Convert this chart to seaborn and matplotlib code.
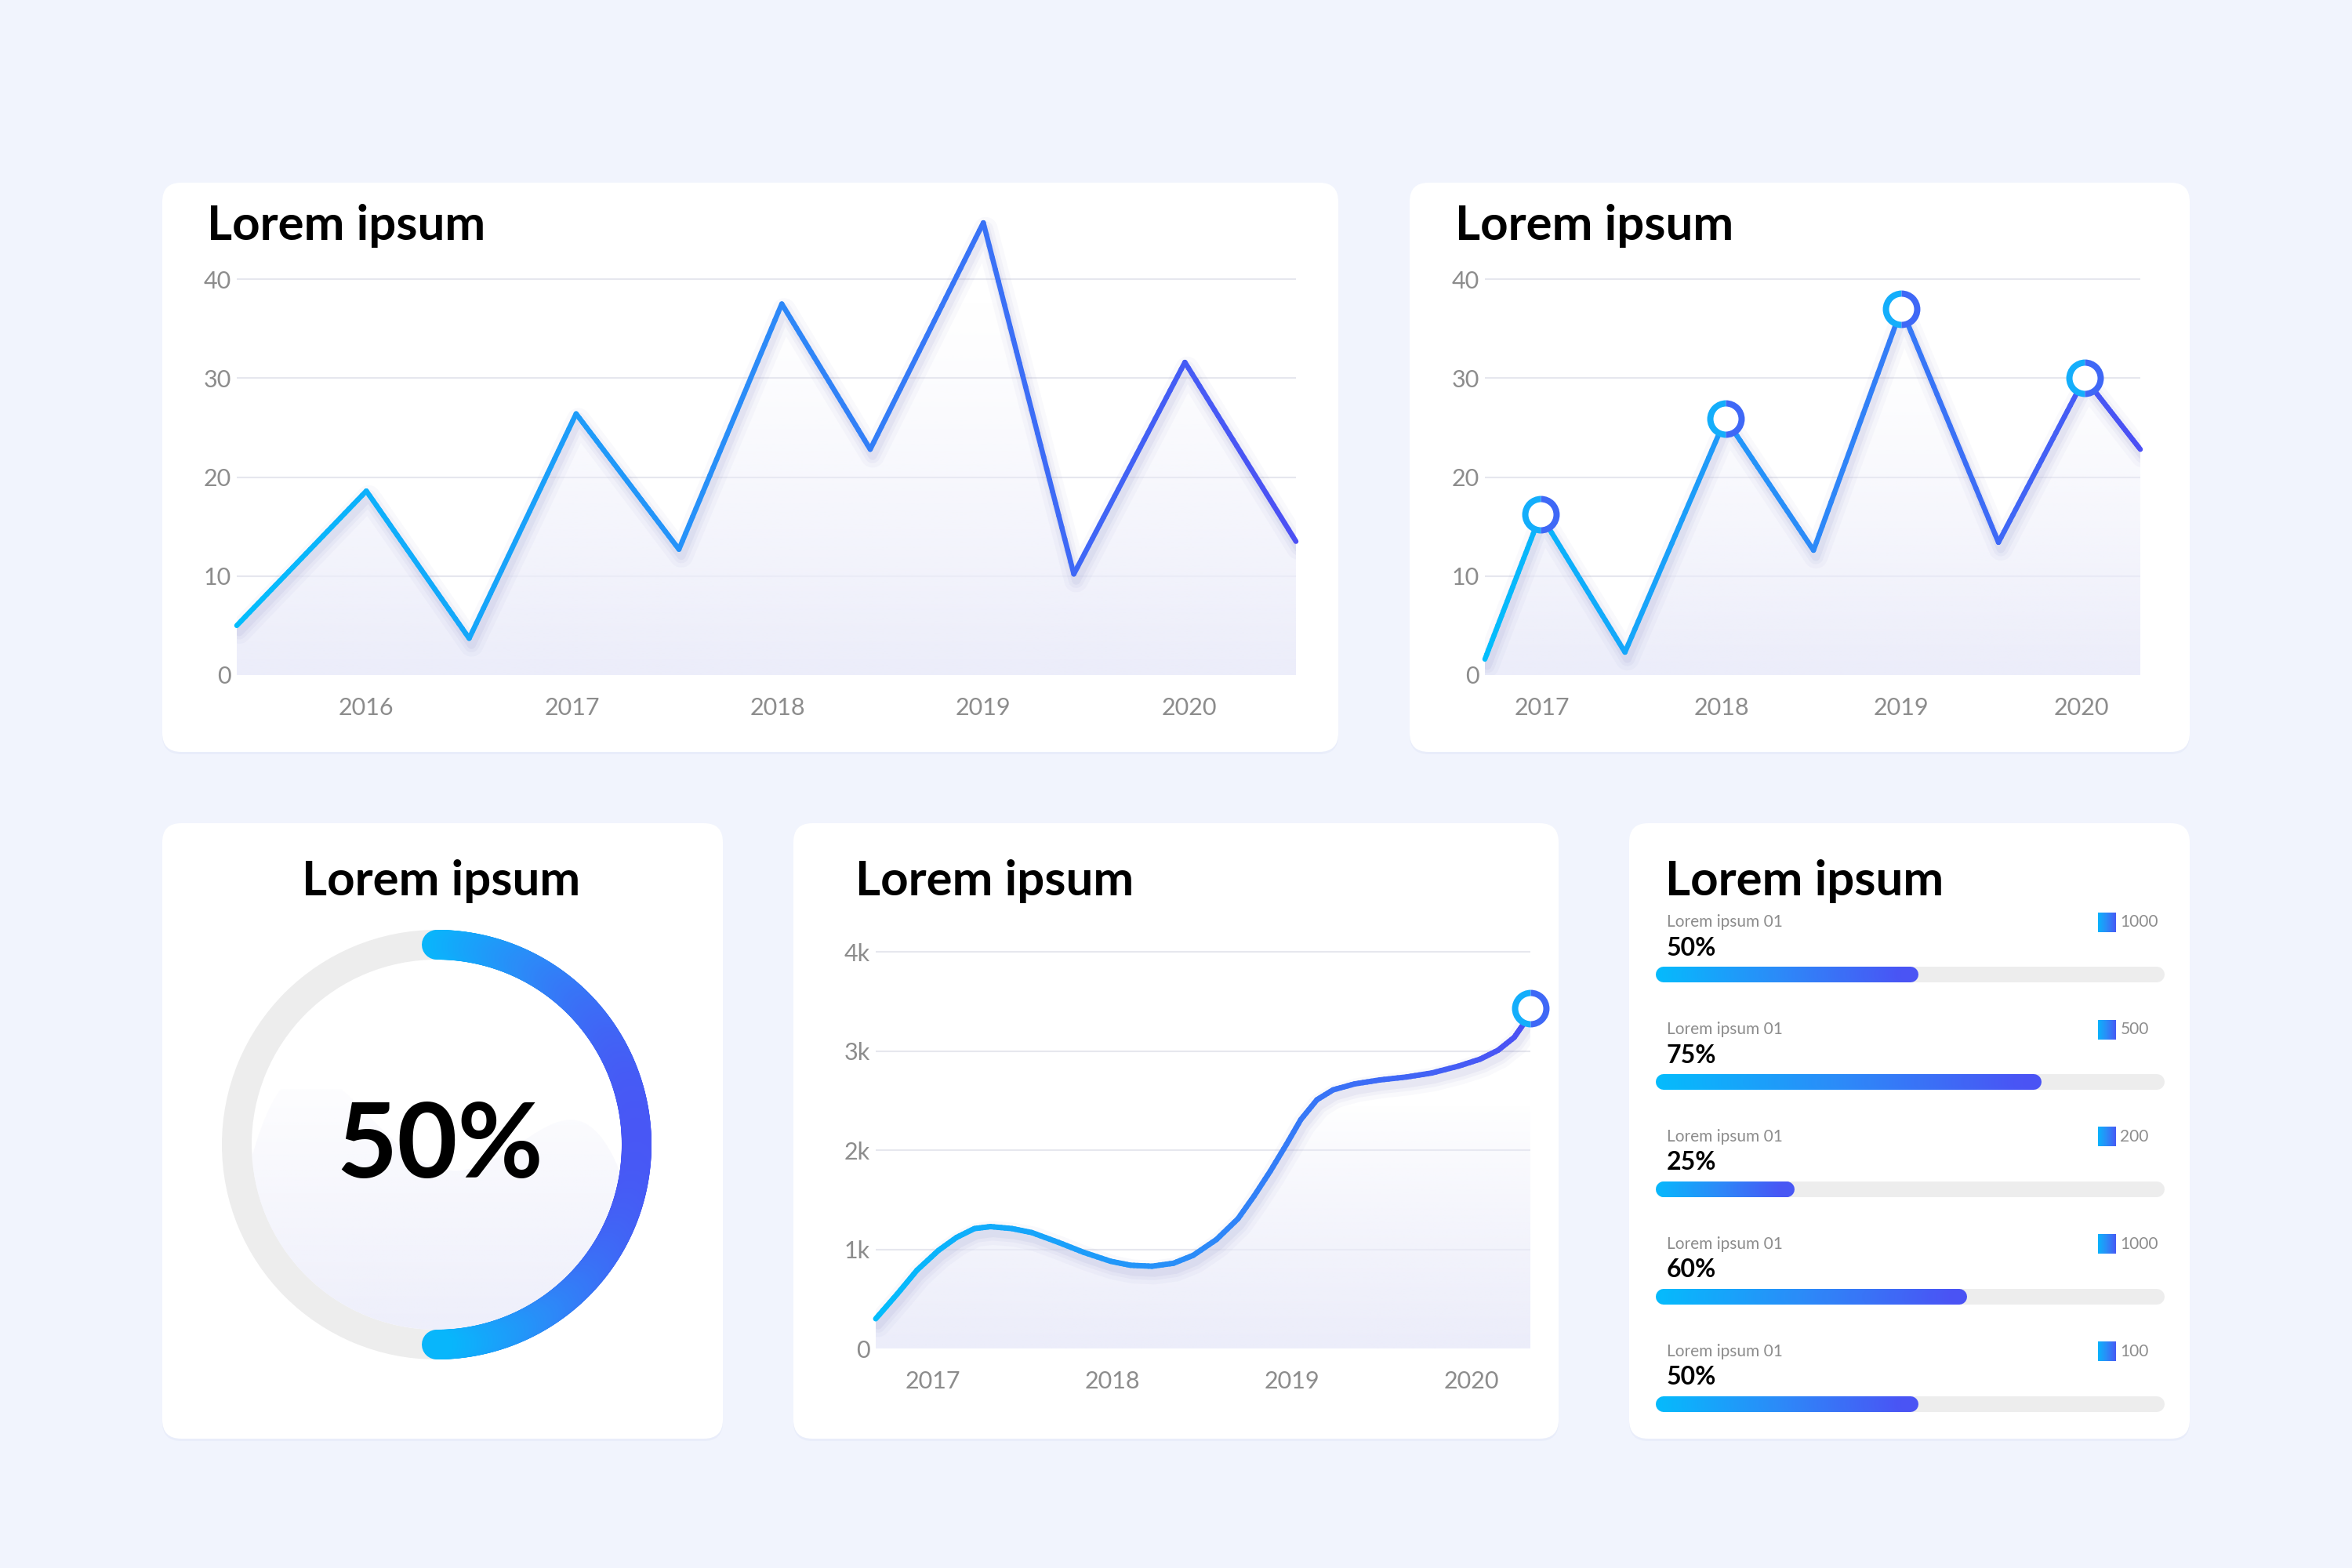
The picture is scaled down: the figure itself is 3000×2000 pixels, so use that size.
import numpy as np
import pandas as pd
import matplotlib
matplotlib.use("Agg")
import matplotlib.pyplot as plt
import seaborn as sns
from matplotlib.patches import FancyBboxPatch, Wedge, Polygon
from matplotlib.collections import LineCollection
from matplotlib.colors import LinearSegmentedColormap, to_rgb
from matplotlib.transforms import offset_copy

sns.set_theme(style="white")
plt.rcParams["font.family"] = ["Lato", "DejaVu Sans"]

# ---- data ----
title = "Lorem ipsum"

years_main = [2015.37, 2016.0, 2016.5, 2017.02, 2017.52, 2018.02, 2018.45, 2019.0, 2019.44, 2019.98, 2020.52]
values_main = [5.0, 18.6, 3.7, 26.4, 12.7, 37.5, 22.8, 45.7, 10.2, 31.6, 13.5]
ticks_main = [2016, 2017, 2018, 2019, 2020]

years_peaks = [2016.68, 2016.99, 2017.46, 2018.02, 2018.51, 2019.0, 2019.54, 2020.02, 2020.33]
values_peaks = [1.6, 16.2, 2.3, 25.9, 12.6, 37.0, 13.4, 30.0, 22.8]
marked_peaks = [1, 3, 5, 7]
ticks_small = [2017, 2018, 2019, 2020]
yticks_ten = [0, 10, 20, 30, 40]

years_curve = [2016.68, 2016.80, 2016.91, 2017.03, 2017.13, 2017.23, 2017.32, 2017.44, 2017.55,
               2017.70, 2017.84, 2017.99, 2018.10, 2018.22, 2018.34, 2018.45, 2018.58, 2018.70,
               2018.79, 2018.88, 2018.97, 2019.05, 2019.14, 2019.23, 2019.35, 2019.49, 2019.64,
               2019.78, 2019.93, 2020.05, 2020.15, 2020.24, 2020.29, 2020.33]
values_curve = [0.30, 0.55, 0.79, 0.99, 1.12, 1.21, 1.23, 1.21, 1.17,
                1.07, 0.97, 0.88, 0.84, 0.83, 0.86, 0.94, 1.10, 1.31,
                1.54, 1.79, 2.06, 2.31, 2.51, 2.61, 2.67, 2.71, 2.74,
                2.78, 2.85, 2.92, 3.01, 3.14, 3.27, 3.43]
yticks_k = [0, 1, 2, 3, 4]
yticklabels_k = ["0", "1k", "2k", "3k", "4k"]

donut_pct = 50

bar_labels = ["Lorem ipsum 01"] * 5
bar_pcts = [50, 75, 25, 60, 50]
bar_counts = [1000, 500, 200, 1000, 100]

# ---- look ----
W, H = 3000, 2000
BG = "#F1F4FD"
LAVENDER = "#ECEDFA"
GRID = "#E6E7EE"
TICK = "#8C8C8C"
TRACK = "#EDEDED"
C0, CMID, C1 = "#03BDFC", "#2C8AF8", "#4C50F4"
GRAD = LinearSegmentedColormap.from_list("grad", [C0, CMID, C1])

fig = plt.figure(figsize=(30, 20), dpi=100, facecolor=BG)


def px_rect(left, top, right, bottom):
    return [left / W, 1 - bottom / H, (right - left) / W, (bottom - top) / H]


bg = fig.add_axes([0, 0, 1, 1], zorder=0)
bg.set_xlim(0, W)
bg.set_ylim(H, 0)
bg.axis("off")
bg.set_facecolor(BG)

cards = [(207, 233, 1707, 959), (1798, 233, 2793, 959), (207, 1050, 922, 1835),
         (1012, 1050, 1988, 1835), (2078, 1050, 2793, 1835)]
for l, t, r, b in cards:
    bg.add_patch(FancyBboxPatch((l, t + 3), r - l, b - t, boxstyle="round,pad=0,rounding_size=24",
                                fc="#E9EDFA", ec="none"))
    bg.add_patch(FancyBboxPatch((l, t), r - l, b - t, boxstyle="round,pad=0,rounding_size=24",
                                fc="white", ec="none"))

tkw = dict(fontsize=44.5, fontweight="bold", color="black", va="baseline")
bg.text(264, 306, title, ha="left", **tkw)
bg.text(1856, 306, title, ha="left", **tkw)
bg.text(563, 1142, title, ha="center", **tkw)
bg.text(1091, 1142, title, ha="left", **tkw)
bg.text(2124, 1142, title, ha="left", **tkw)


def style_axes(ax, xticks, xlabels, yticks, ylabels):
    ax.set_facecolor("none")
    for s in ax.spines.values():
        s.set_visible(False)
    ax.set_xticks(xticks, labels=xlabels)
    ax.set_yticks(yticks, labels=ylabels)
    ax.tick_params(length=0, labelsize=22, labelcolor=TICK)
    ax.tick_params(axis="x", pad=20)
    ax.tick_params(axis="y", pad=5)
    ax.grid(axis="y", color=GRID, lw=1.5)
    ax.grid(axis="x", visible=False)
    ax.set_axisbelow(True)
    ax.set_xlabel("")
    ax.set_ylabel("")


def soft_shadow(ax, xs, ys):
    for lw, a in [(22, 0.03), (14, 0.045), (8, 0.06)]:
        sns.lineplot(x=xs, y=ys, ax=ax, color="#4A4FA8", lw=lw, alpha=a, sort=False, estimator=None)
        ln = ax.lines[-1]
        ln.set_transform(offset_copy(ax.transData, fig=fig, x=3, y=-8, units="dots"))
        ln.set_solid_joinstyle("round")
        ln.set_solid_capstyle("round")
        ln.set_zorder(2)


def gradient_segments(ax, px, py, cvals, vmin, vmax, lw, z=4):
    pts = np.column_stack([px, py])
    segs = np.stack([pts[:-1], pts[1:]], axis=1)
    lc = LineCollection(segs, cmap=GRAD, norm=plt.Normalize(vmin, vmax), linewidths=lw,
                        capstyle="round", joinstyle="round", zorder=z)
    lc.set_array(0.5 * (cvals[:-1] + cvals[1:]))
    lc.set_clip_on(False)
    ax.add_collection(lc)


def gradient_line(ax, xs, ys, lw, n_sub=30):
    xs = np.asarray(xs, float)
    ys = np.asarray(ys, float)
    t = np.linspace(0, 1, n_sub, endpoint=False)
    px = np.concatenate([xs[i] + (xs[i + 1] - xs[i]) * t for i in range(len(xs) - 1)] + [xs[-1:]])
    py = np.concatenate([ys[i] + (ys[i + 1] - ys[i]) * t for i in range(len(ys) - 1)] + [ys[-1:]])
    gradient_segments(ax, px, py, px, xs.min(), xs.max(), lw)


def gradient_area(ax, xs, ys, top, power=1.2):
    poly = ax.fill_between(xs, ys, 0, facecolor="none", edgecolor="none")
    n = 256
    arr = np.zeros((n, 2, 4))
    arr[..., :3] = to_rgb(LAVENDER)
    arr[..., 3] = (np.linspace(1, 0, n) ** power)[:, None]
    img = ax.imshow(arr, extent=[xs[0], xs[-1], 0, top], origin="lower", aspect="auto",
                    zorder=1, interpolation="bilinear")
    img.set_clip_path(poly.get_paths()[0], ax.transData)


def ring_markers(ax, xs, ys):
    ax.plot(xs, ys, "o", ms=34.5, fillstyle="left", mfc="#14AEFB", mfcalt="#3F68F6",
            mec="none", zorder=5, clip_on=False)
    ax.plot(xs, ys, "o", ms=23, mfc="white", mec="none", zorder=6, clip_on=False)


# ---- top-left line chart ----
ax1 = fig.add_axes(px_rect(302, 250, 1653, 861), zorder=2)
gradient_area(ax1, years_main, values_main, 38)
soft_shadow(ax1, years_main, values_main)
gradient_line(ax1, years_main, values_main, lw=4.7)
ax1.set_xlim(years_main[0], years_main[-1])
ax1.set_ylim(0, 48.4)
style_axes(ax1, ticks_main, [str(y) for y in ticks_main], yticks_ten, [str(v) for v in yticks_ten])

# ---- top-right line chart with markers ----
ax2 = fig.add_axes(px_rect(1894, 250, 2730, 861), zorder=2)
gradient_area(ax2, years_peaks, values_peaks, 34)
soft_shadow(ax2, years_peaks, values_peaks)
gradient_line(ax2, years_peaks, values_peaks, lw=4.7)
ring_markers(ax2, [years_peaks[i] for i in marked_peaks], [values_peaks[i] for i in marked_peaks])
ax2.set_xlim(years_peaks[0], years_peaks[-1])
ax2.set_ylim(0, 48.4)
style_axes(ax2, ticks_small, [str(y) for y in ticks_small], yticks_ten, [str(v) for v in yticks_ten])

# ---- bottom-middle smooth curve ----
ax3 = fig.add_axes(px_rect(1117, 1150, 1952, 1720), zorder=2)
gradient_area(ax3, years_curve, values_curve, 2.45, power=0.8)
soft_shadow(ax3, years_curve, values_curve)
gradient_line(ax3, years_curve, values_curve, lw=5, n_sub=6)
ring_markers(ax3, years_curve[-1:], values_curve[-1:])
ax3.set_xlim(years_curve[0], years_curve[-1])
ax3.set_ylim(0, 4.51)
style_axes(ax3, ticks_small, [str(y) for y in ticks_small], yticks_k, yticklabels_k)

# ---- donut ----
axd = fig.add_axes(px_rect(557 - 330, 1460 - 330, 557 + 330, 1460 + 330), zorder=2)
R_OUT, RING = 274, 38
R_IN = R_OUT - RING
axd.add_patch(Wedge((0, 0), R_OUT, 0, 360, width=RING, fc=TRACK, ec="none", zorder=1))

# faint wave inside the ring
wave_u = np.array([-1.0, -0.45, 0.09, 0.6, 1.0])
wave_v = np.array([-0.07, 0.24, -0.14, 0.1, -0.17])
coef = np.polyfit(wave_u, wave_v, 4)
u = np.linspace(-1, 1, 300)
upper = np.minimum(np.polyval(coef, u), np.sqrt(1 - u ** 2))
lower = -np.sqrt(1 - u ** 2)
verts = np.vstack([np.column_stack([u, upper]), np.column_stack([u[::-1], lower[::-1]])]) * R_IN
wave = Polygon(verts, closed=True, fc="none", ec="none")
axd.add_patch(wave)
warr = np.zeros((256, 2, 4))
warr[..., :3] = to_rgb("#EEEFFB")
warr[..., 3] = np.linspace(1, 0.12, 256)[:, None]
wimg = axd.imshow(warr, extent=[-R_IN, R_IN, -R_IN, 0.3 * R_IN], origin="lower", aspect="auto", zorder=1)
wimg.set_clip_path(wave)

theta = np.linspace(90, 90 - 360 * donut_pct / 100, 400)
r_mid = R_OUT - RING / 2
arc_x = r_mid * np.cos(np.radians(theta))
arc_y = r_mid * np.sin(np.radians(theta))
gradient_segments(axd, arc_x, arc_y, arc_x, -RING / 2, R_OUT, lw=RING * 0.72, z=3)
axd.set_xlim(-330, 330)
axd.set_ylim(-330, 330)
axd.set_aspect("equal")
axd.axis("off")
axd.text(4, -4, f"{donut_pct}%", ha="center", va="center", fontsize=96, fontweight="bold",
         color="black", zorder=5)

# ---- progress bars ----
BAR_PX = 20
axb = fig.add_axes(px_rect(2122, 1175, 2751, 1859), zorder=2)
axb.set_facecolor("none")
n_rows = len(bar_pcts)
rows = list(range(n_rows))
px_per_x = 629 / 100
bar_lw = BAR_PX * 0.72

track_df = pd.DataFrame({"row": rows, "pct": [100] * n_rows})
fill_df = pd.DataFrame({"row": rows, "pct": bar_pcts})
sns.barplot(data=track_df, x="pct", y="row", orient="h", ax=axb, color=TRACK,
            width=0.15, saturation=1, errorbar=None)
n_track = len(axb.patches)
sns.barplot(data=fill_df, x="pct", y="row", orient="h", ax=axb, color=C0,
            width=0.15, saturation=1, errorbar=None)

# turn the seaborn bars into pill shapes (round caps), gradient for the filled part
for k, p in enumerate(list(axb.patches)):
    x0, w = p.get_x(), p.get_width()
    yc = p.get_y() + p.get_height() / 2
    p.remove()
    if k < n_track:
        axb.plot([x0, x0 + w], [yc, yc], color=TRACK, lw=bar_lw, solid_capstyle="round",
                 zorder=1, clip_on=False)
    else:
        gx = np.linspace(x0, x0 + w, 120)
        gradient_segments(axb, gx, np.full_like(gx, yc), gx, x0 - 1.6, x0 + w + 1.6, lw=bar_lw, z=2)

grad_row = np.zeros((1, 64, 4))
grad_row[0] = GRAD(np.linspace(0.1, 0.9, 64))
sq_w, sq_h = 23 / px_per_x, 25 / 136.8
sq_x = 88.0
for i in rows:
    axb.text(0.6, i - 0.49, bar_labels[i], ha="left", va="center", fontsize=15, color=TICK)
    axb.text(0.6, i - 0.25, f"{bar_pcts[i]}%", ha="left", va="center", fontsize=23,
             fontweight="bold", color="black")
    sq = axb.imshow(grad_row, extent=[sq_x, sq_x + sq_w, i - 0.49 + sq_h / 2, i - 0.49 - sq_h / 2],
                    aspect="auto", zorder=2, interpolation="bilinear")
    sq.set_clip_on(False)
    axb.text(92.6, i - 0.49, str(bar_counts[i]), ha="left", va="center", fontsize=15, color=TICK)

axb.set_xlim(0, 100)
axb.set_ylim(n_rows - 0.5, -0.5)
axb.axis("off")

fig.savefig("out.png", dpi=100, facecolor=BG)
